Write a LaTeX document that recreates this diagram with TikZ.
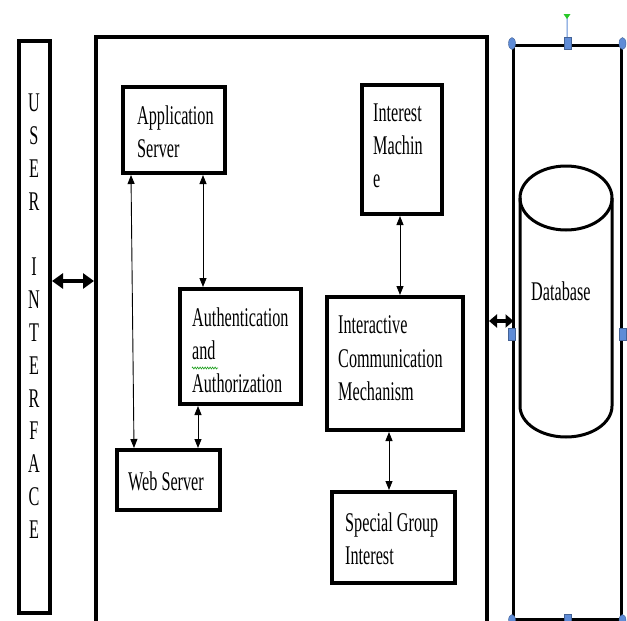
\documentclass[tikz,border=0pt]{standalone}
\usepackage{fontspec}
\setmainfont{Liberation Serif}[FakeStretch=0.6]
\usetikzlibrary{arrows.meta,decorations.pathmorphing,shapes.geometric}
\definecolor{handle}{RGB}{95,140,215}
\definecolor{rotg}{RGB}{40,200,40}
\begin{document}
\begin{tikzpicture}[x=1pt,y=-1pt,
  box/.style={draw,line width=4pt,inner sep=0pt,fill=white},
  lbl/.style={inner sep=0pt,anchor=north west,align=left,font=\fontsize{27}{33}\selectfont},
  thinarrow/.style={line width=0.9pt,{Triangle[width=7pt,length=9pt]}-{Triangle[width=7pt,length=9pt]}},
  thickarrow/.style={line width=4pt,{Triangle[width=15pt,length=11pt]}-{Triangle[width=15pt,length=11pt]}},
  shortarrow/.style={line width=4pt,{Triangle[width=13pt,length=8pt]}-{Triangle[width=13pt,length=8pt]}},
  hsq/.style={rectangle,fill=handle,draw=handle!70!black,line width=0.4pt,minimum width=7pt,minimum height=12pt,inner sep=0pt},
  hcirc/.style={ellipse,fill=handle,draw=handle!70!black,line width=0.4pt,minimum width=7pt,minimum height=12pt,inner sep=0pt}
]
\useasboundingbox (0,0) rectangle (627,621);
\fill[white] (0,0) rectangle (627,621);

% outer frames
\node[draw,line width=4pt,inner sep=0pt,minimum width=31.5pt,minimum height=572pt] (ui) at (34.25,327) {};
\node[draw,line width=4pt,inner sep=0pt,minimum width=391pt,minimum height=603pt] (main) at (291.5,338.5) {};
\node[draw,line width=3pt,inner sep=0pt,minimum width=107.5pt,minimum height=574pt] (db) at (567.25,332) {};

% UI letters
\node[inner sep=0pt,anchor=north,align=center,font=\fontsize{27}{32.8}\selectfont] (uitext) at (34,94)
  {U\\S\\E\\R\\~\\I\\N\\T\\E\\R\\F\\A\\C\\E};

% boxes
\node[box,minimum width=102.5pt,minimum height=86pt] (app) at (173.75,130) {};
\node[box,minimum width=80pt,minimum height=129.5pt] (interest) at (401.5,149.25) {};
\node[box,minimum width=121pt,minimum height=115pt] (auth) at (240.5,346.5) {};
\node[box,minimum width=103pt,minimum height=60pt] (web) at (168.5,480) {};
\node[box,minimum width=136pt,minimum height=133pt] (inter) at (395,363.5) {};
\node[box,minimum width=123pt,minimum height=91pt] (special) at (393.5,537.5) {};

% labels
\node[lbl] (appT) at (137,105.1) {Application\\Server};
\node[lbl] (interestT) at (373,104.1) {Interest\\Machin\\e};
\node[lbl] (authT) at (192,307.6) {Authentication\\and\\Authorization};
\node[lbl] (webT) at (128,471.6) {Web Server};
\node[lbl,font=\fontsize{27}{33.5}\selectfont] (interT) at (338,315.6) {Interactive\\Communication\\Mechanism};
\node[lbl] (specialT) at (345,512.1) {Special Group\\Interest};
\node[lbl] (dbT) at (531,282) {Database};
\draw[rotg!80!black,line width=0.6pt,decorate,decoration={zigzag,amplitude=1pt,segment length=2.5pt}] (192,368) -- (218,368);

% cylinder
\draw[line width=3pt] (566,198) ellipse [x radius=46, y radius=32];
\draw[line width=3pt] (520,198) -- (520,406) arc[start angle=180,end angle=0,x radius=46,y radius=31] -- (612,198);

% connectors
\draw[thinarrow] ([xshift=10.5pt]app.south west) -- ([xshift=19pt]web.north west);
\draw[thinarrow] ([xshift=82.5pt]app.south west) -- ([xshift=25pt]auth.north west);
\draw[thinarrow] ([xshift=20pt]auth.south west) -- ([xshift=83pt]web.north west);
\draw[thinarrow] ([xshift=40.5pt]interest.south west) -- ([xshift=75pt]inter.north west);
\draw[thinarrow] ([xshift=64pt]inter.south west) -- ([xshift=59pt]special.north west);
\draw[thickarrow] ([yshift=46pt]ui.east) -- ([yshift=57.5pt]main.west);
\draw[shortarrow] ([yshift=17.5pt]main.east) -- ([yshift=11pt,xshift=1.5pt]db.west);

% selection handles
\coordinate (rot) at (567,16);
\draw[handle,line width=1pt] (db.north) -- (rot);
\fill[rotg] (563.5,14) -- (570.5,14) -- (567,19) -- cycle;
\node[hcirc] (h1) at (db.north west) {};
\node[hsq] (h2) at (db.north) {};
\node[hcirc] (h3) at (db.north east) {};
\node[hsq] (h4) at ([yshift=-2pt]db.west) {};
\node[hsq] (h5) at ([yshift=-2pt]db.east) {};
\node[hcirc] (h6) at (db.south west) {};
\node[hsq] (h7) at (db.south) {};
\node[hcirc] (h8) at (db.south east) {};
\end{tikzpicture}
\end{document}
